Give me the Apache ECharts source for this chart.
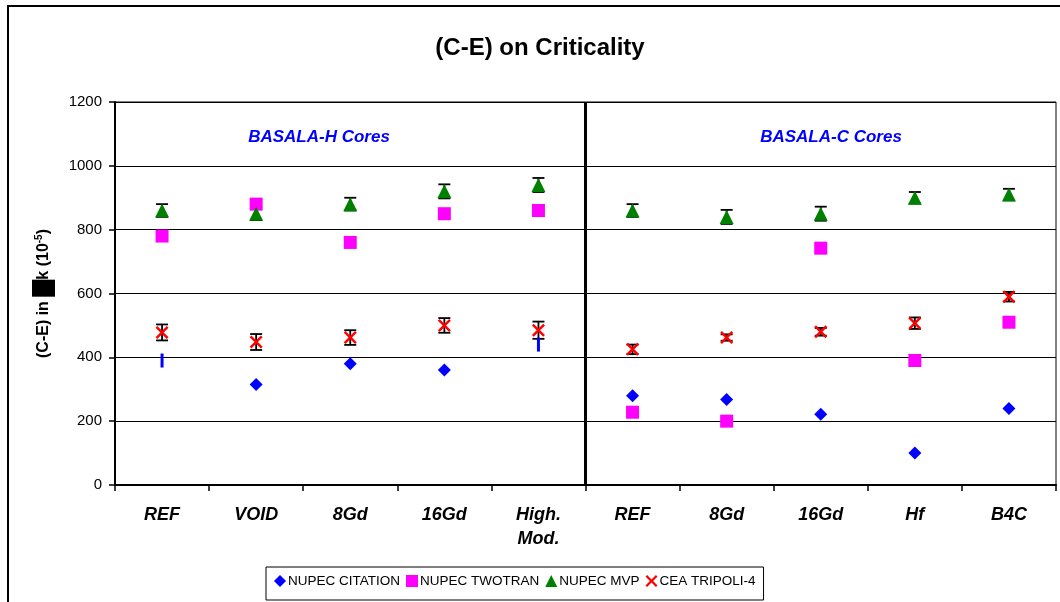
<!DOCTYPE html>
<html><head><meta charset="utf-8">
<script src="https://cdn.jsdelivr.net/npm/echarts@6/dist/echarts.min.js"></script>
<style>html,body{margin:0;padding:0;background:#fff}#c{width:1060px;height:602px}</style>
</head><body><div id="c"></div>
<script>
// ---- data ----
const categories = ['REF', 'VOID', '8Gd', '16Gd', 'High.\nMod.', 'REF', '8Gd', '16Gd', 'Hf', 'B4C'];
const yTicks = [0, 200, 400, 600, 800, 1000, 1200];
const citation = [390, 315, 380, 360, 440, 280, 268, 222, 100, 240];
const twotran  = [780, 880, 760, 850, 860, 228, 200, 742, 390, 510];
const mvp      = [860, 850, 880, 920, 940, 860, 840, 850, 900, 910];
const mvpErr   = [20, 20, 20, 22, 22, 20, 22, 22, 18, 18];
const tripoli  = [478, 448, 462, 500, 485, 425, 462, 480, 507, 590];
const tripoliErr = [25, 25, 23, 23, 27, 15, 10, 12, 18, 15];
const seriesNames = ['NUPEC CITATION', 'NUPEC TWOTRAN', 'NUPEC MVP', 'CEA TRIPOLI-4'];
const groupLabels = ['BASALA-H Cores', 'BASALA-C Cores'];
const thinCitation = [0, 4]; // points drawn as thin vertical marks in the reference

const FONT = 'Liberation Sans, Arial, Helvetica, sans-serif';
const X_PATH = 'path://M0,1.6L1.6,0L6,4.4L10.4,0L12,1.6L7.6,6L12,10.4L10.4,12L6,7.6L1.6,12L0,10.4L4.4,6Z';

function errRender(params, api) {
  const x = api.value(0), lo = api.value(1), hi = api.value(2);
  const p1 = api.coord([x, lo]), p2 = api.coord([x, hi]);
  const w = 6, st = { stroke: '#000', lineWidth: 1.8 };
  return { type: 'group', children: [
    { type: 'line', shape: { x1: p1[0], y1: p1[1], x2: p2[0], y2: p2[1] }, style: st },
    { type: 'line', shape: { x1: p1[0] - w, y1: p1[1], x2: p1[0] + w, y2: p1[1] }, style: st },
    { type: 'line', shape: { x1: p2[0] - w, y1: p2[1], x2: p2[0] + w, y2: p2[1] }, style: st }
  ]};
}

const chart = echarts.init(document.getElementById('c'), null, { renderer: 'canvas' });
const citData = citation.map((v, i) => thinCitation.includes(i)
  ? { value: v, symbol: 'rect', symbolSize: [3, 14] } : v);

chart.setOption({
  animation: false,
  backgroundColor: '#fff',
  title: {
    text: '(C-E) on Criticality', left: 535, top: 31, textAlign: 'center',
    textStyle: { fontFamily: FONT, fontSize: 24, fontWeight: 'bold', color: '#000' }
  },
  graphic: [
    { type: 'rect', shape: { x: 8, y: 6, width: 1070, height: 620 }, style: { fill: 'none', stroke: '#000', lineWidth: 2 }, z: -1 },
    { type: 'text', x: 319, y: 137, style: { text: groupLabels[0], align: 'center', verticalAlign: 'middle', fill: '#0000ff', font: 'italic bold 17px ' + FONT } },
    { type: 'text', x: 831, y: 137, style: { text: groupLabels[1], align: 'center', verticalAlign: 'middle', fill: '#0000ff', font: 'italic bold 17px ' + FONT } }
  ],
  legend: {
    data: seriesNames, left: 266, top: 567, itemGap: 6, itemWidth: 12, itemHeight: 12,
    borderColor: '#000', borderWidth: 1, backgroundColor: '#fff', padding: [7, 8, 12, 8],
    textStyle: { fontFamily: FONT, fontSize: 13.5, color: '#000', padding: [0, 0, 0, -3] }
  },
  grid: { left: 115, right: 4, top: 102, bottom: 117, show: true, borderColor: '#000', borderWidth: 1 },
  xAxis: [{
    type: 'category', data: categories.map((_, i) => String(i)), boundaryGap: true,
    axisLine: { lineStyle: { color: '#000', width: 2 } },
    axisTick: { show: true, length: 6, lineStyle: { color: '#000', width: 1.5 } },
    axisLabel: { interval: 0, margin: 18, formatter: v => categories[+v], fontFamily: FONT, fontSize: 18,
      fontStyle: 'italic', fontWeight: 'bold', color: '#000', lineHeight: 24 },
    splitLine: { show: false }
  }, {
    type: 'value', min: 0, max: 10, show: false
  }],
  yAxis: {
    type: 'value', min: 0, max: 1200, interval: 200,
    axisLine: { show: true, lineStyle: { color: '#000', width: 2 } },
    axisTick: { show: true, length: 6, lineStyle: { color: '#000', width: 1.5 } },
    axisLabel: { fontFamily: FONT, fontSize: 15, color: '#000', margin: 13, formatter: v => String(v) },
    splitLine: { lineStyle: { color: '#000', width: 1.2 } },
    name: '{t|(C-E) in }{box| }{t|k (10}{sup|-5}{t|)}',
    nameLocation: 'middle', nameGap: 60, nameRotate: 90,
    nameTextStyle: {
      rich: {
        t: { fontFamily: FONT, fontSize: 16, fontWeight: 'bold', color: '#000' },
        box: { backgroundColor: '#000', width: 17, height: 23 },
        sup: { fontFamily: FONT, fontSize: 10, fontWeight: 'bold', color: '#000', padding: [0, 0, 8, 0] }
      }
    }
  },
  series: [
    { type: 'custom', name: 'mvpErr', renderItem: errRender, z: 2, silent: true,
      data: mvp.map((v, i) => [i, v - mvpErr[i], v + mvpErr[i]]), encode: { x: 0, y: [1, 2] } },
    { type: 'custom', name: 'tripoliErr', renderItem: errRender, z: 2, silent: true,
      data: tripoli.map((v, i) => [i, v - tripoliErr[i], v + tripoliErr[i]]), encode: { x: 0, y: [1, 2] } },
    { type: 'scatter', name: seriesNames[0], data: citData, symbol: 'diamond', symbolSize: [13, 13], z: 3,
      itemStyle: { color: '#0000ff', opacity: 1 } },
    { type: 'scatter', name: seriesNames[1], data: twotran, symbol: 'rect', symbolSize: 13, z: 3,
      itemStyle: { color: '#ff00ff', opacity: 1 } },
    { type: 'scatter', name: seriesNames[2], data: mvp, symbol: 'triangle', symbolSize: [14, 14], z: 3,
      itemStyle: { color: '#008000', opacity: 1 } },
    { type: 'scatter', name: seriesNames[3], data: tripoli, symbol: X_PATH, symbolSize: 13, z: 4,
      itemStyle: { color: '#ff0000', opacity: 1 } },
    { type: 'line', name: 'divider', xAxisIndex: 1, data: [], silent: true,
      markLine: { symbol: 'none', silent: true, label: { show: false },
        lineStyle: { color: '#000', width: 3, type: 'solid' }, data: [{ xAxis: 5 }] } }
  ]
});
</script>
</body></html>
